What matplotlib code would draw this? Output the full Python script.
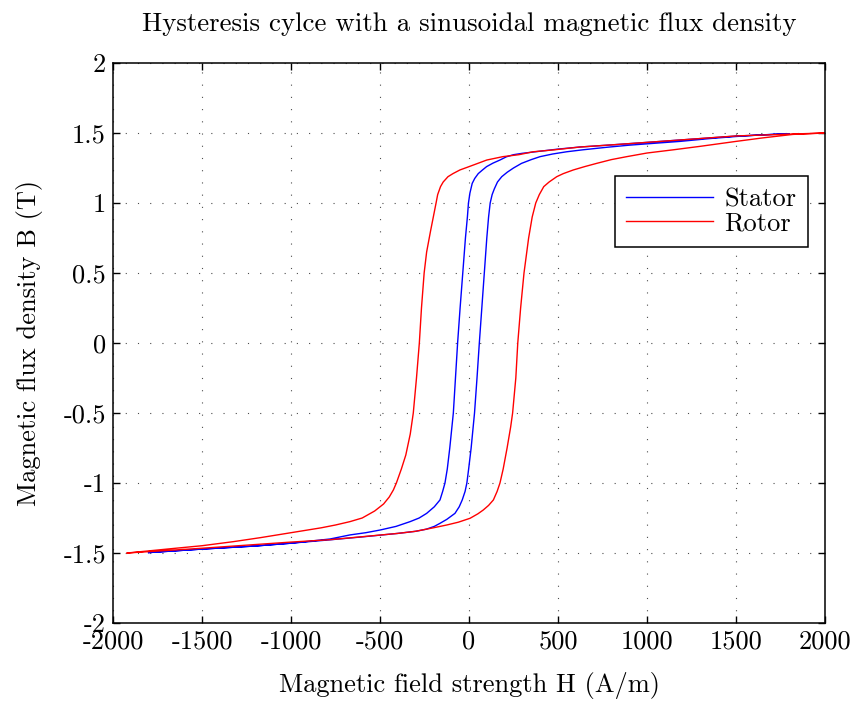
import numpy as np
import matplotlib
matplotlib.use('Agg')
import matplotlib.pyplot as plt

# Stator loop (blue) - ascending branch
stator_up_H = [-1800, -1500, -1200, -1000, -800, -600, -400, -300, -240, -195,
               -163, -125, -79, -55, -38, -22, -12, -2, 12, 31, 45, 58, 72, 86,
               100, 110, 119, 130, 142, 160, 184, 215, 250, 295, 350, 399, 470,
               549, 640, 774, 900, 1036, 1185, 1350, 1500, 1650, 1800]
stator_up_B = [-1.497, -1.472, -1.45, -1.43, -1.408, -1.385, -1.36, -1.345,
               -1.33, -1.31, -1.288, -1.26, -1.217, -1.17, -1.121, -1.06, -1.0,
               -0.9, -0.75, -0.5, -0.25, 0.0, 0.25, 0.5, 0.75, 0.9, 1.0, 1.06,
               1.1, 1.15, 1.188, 1.22, 1.25, 1.283, 1.31, 1.331, 1.35, 1.366,
               1.38, 1.398, 1.413, 1.426, 1.44, 1.46, 1.475, 1.487, 1.495]
# Stator loop (blue) - descending branch
stator_dn_H = [1800, 1500, 1185, 1000, 800, 624, 500, 400, 300, 250, 210, 174,
               135, 99, 75, 52, 32, 18, 5, -3, -9, -20, -35, -50, -64, -76, -88,
               -108, -122, -135, -148, -163, -195, -238, -280, -331, -410, -500,
               -580, -669, -781, -1000, -1200, -1500, -1800]
stator_dn_B = [1.495, 1.478, 1.45, 1.433, 1.415, 1.40, 1.385, 1.37, 1.355, 1.345,
               1.33, 1.307, 1.285, 1.26, 1.235, 1.21, 1.175, 1.14, 1.07, 1.0,
               0.9, 0.75, 0.5, 0.25, 0.0, -0.25, -0.5, -0.75, -0.9, -1.0, -1.06,
               -1.121, -1.17, -1.217, -1.25, -1.276, -1.31, -1.336, -1.355,
               -1.371, -1.4, -1.43, -1.45, -1.472, -1.497]

# Rotor loop (red) - ascending branch
rotor_up_H = [-1920, -1500, -1000, -781, -594, -400, -300, -200, -125, -60, 6,
              50, 80, 110, 137, 158, 174, 192, 214, 234, 245, 263, 274, 290,
              309, 335, 355, 375, 395, 420, 450, 493, 530, 586, 650, 717, 800,
              886, 1000, 1148, 1300, 1500, 1650, 1820, 2000]
rotor_up_B = [-1.5, -1.466, -1.422, -1.405, -1.383, -1.36, -1.345, -1.32, -1.30,
              -1.28, -1.252, -1.22, -1.193, -1.16, -1.121, -1.06, -1.0, -0.9,
              -0.75, -0.6, -0.5, -0.25, 0.0, 0.25, 0.5, 0.75, 0.9, 1.0, 1.06,
              1.117, 1.15, 1.188, 1.21, 1.236, 1.26, 1.283, 1.31, 1.331, 1.357,
              1.38, 1.405, 1.44, 1.465, 1.49, 1.5]
# Rotor loop (red) - descending branch
rotor_dn_H = [2000, 1800, 1500, 1185, 1000, 800, 624, 480, 361, 280, 190, 100,
              24, -10, -51, -90, -118, -145, -160, -176, -185, -216, -238, -252,
              -267, -279, -295, -313, -330, -355, -380, -408, -425, -448, -480,
              -530, -600, -669, -750, -830, -1000, -1170, -1324, -1500, -1680,
              -1920]
rotor_dn_B = [1.5, 1.492, 1.479, 1.45, 1.433, 1.415, 1.40, 1.38, 1.366, 1.345,
              1.331, 1.307, 1.271, 1.255, 1.236, 1.21, 1.188, 1.15, 1.117, 1.06,
              1.0, 0.8, 0.65, 0.5, 0.25, 0.0, -0.25, -0.5, -0.65, -0.8, -0.9,
              -1.0, -1.05, -1.1, -1.15, -1.2, -1.25, -1.276, -1.30, -1.32,
              -1.355, -1.39, -1.419, -1.448, -1.47, -1.5]

xticks = [-2000, -1500, -1000, -500, 0, 500, 1000, 1500, 2000]
xtick_labels = ['-2000', '-1500', '-1000', '-500', '0', '500', '1000', '1500', '2000']
yticks = [-2, -1.5, -1, -0.5, 0, 0.5, 1, 1.5, 2]
ytick_labels = ['-2', '-1.5', '-1', '-0.5', '0', '0.5', '1', '1.5', '2']

plt.rcParams['font.family'] = 'cmr10'
plt.rcParams['axes.unicode_minus'] = False
plt.rcParams['mathtext.fontset'] = 'cm'

fig = plt.figure(figsize=(8.55, 7.01), dpi=100)
ax = fig.add_axes([113 / 855, 1 - 623 / 701, 712 / 855, 560 / 701])

ax.plot(stator_up_H + stator_dn_H, stator_up_B + stator_dn_B,
        color='#0000ff', lw=1.0, label='Stator')
ax.plot(rotor_up_H + rotor_dn_H, rotor_up_B + rotor_dn_B,
        color='#ff0000', lw=1.0, label='Rotor')

ax.set_xlim(-2000, 2000)
ax.set_ylim(-2, 2)
ax.set_xticks(xticks)
ax.set_xticklabels(xtick_labels)
ax.set_yticks(yticks)
ax.set_yticklabels(ytick_labels)
ax.tick_params(direction='in', length=5, width=1.0, labelsize=19,
               top=True, right=True, pad=5)
for s in ax.spines.values():
    s.set_linewidth(1.1)

ax.grid(True, color='0.3', linestyle=(0, (1, 10)), linewidth=0.8)

ax.set_title('Hysteresis cylce with a sinusoidal magnetic flux density',
             fontsize=19.4, pad=23)
ax.set_xlabel('Magnetic field strength H (A/m)', fontsize=19, labelpad=13)
ax.set_ylabel('Magnetic flux density B (T)', fontsize=19, labelpad=15)

leg = ax.legend(loc='upper right', bbox_to_anchor=(0.976, 0.798),
                borderaxespad=0, fancybox=False, framealpha=1,
                edgecolor='black', fontsize=19, handlelength=3.3,
                borderpad=0.45, labelspacing=0.0, handletextpad=0.4)
leg.get_frame().set_linewidth(1.1)

fig.savefig('out.png', dpi=100)
